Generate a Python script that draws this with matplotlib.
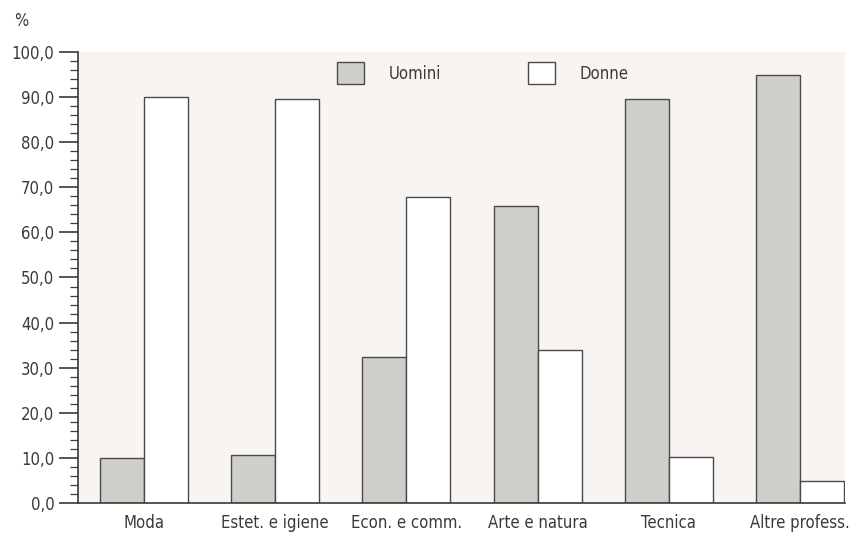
import matplotlib.pyplot as plt
import numpy as np
from matplotlib.patches import Patch
from matplotlib.ticker import MultipleLocator, FuncFormatter

categories = ['Moda', 'Estet. e igiene', 'Econ. e comm.', 'Arte e natura', 'Tecnica', 'Altre profess.']
uomini = [10.0, 10.6, 32.4, 65.9, 89.6, 94.9]
donne = [90.1, 89.5, 67.8, 33.9, 10.3, 4.9]

plt.rcParams['font.family'] = ['DejaVu Sans']
plt.rcParams['font.stretch'] = 'condensed'
txt = '#3a3a3a'
grey = '#cfcfc9'
edge = '#4a4a4a'

fig = plt.figure(figsize=(8.54, 5.45), dpi=100)
ax = fig.add_axes([0.0913, 0.0771, 0.898, 0.8275])
ax.set_facecolor('#f7f4f2')

x = np.arange(len(categories))
w = 0.335
ax.bar(x - w / 2, uomini, w, color=grey, edgecolor=edge, lw=1.0, label='Uomini')
ax.bar(x + w / 2, donne, w, color='white', edgecolor=edge, lw=1.0, label='Donne')

ax.set_xlim(-0.5, 5 + w + 0.005)
ax.set_ylim(0, 100)
ax.yaxis.set_major_locator(MultipleLocator(10))
ax.yaxis.set_minor_locator(MultipleLocator(2))
ax.yaxis.set_major_formatter(FuncFormatter(lambda v, p: f'{v:.1f}'.replace('.', ',')))
ax.set_xticks(x)
ax.set_xticklabels(categories)
ax.tick_params(axis='x', length=0, pad=8, labelsize=12, colors=txt)
ax.tick_params(axis='y', which='major', length=14, width=1.2, labelsize=12, colors=txt, pad=3)
ax.tick_params(axis='y', which='minor', length=6, width=0.9, colors=txt)
for s in ['top', 'right']:
    ax.spines[s].set_visible(False)
for s in ['left', 'bottom']:
    ax.spines[s].set_color(txt)
    ax.spines[s].set_linewidth(1.2)

handles = [Patch(facecolor=grey, edgecolor=edge, lw=1.0), Patch(facecolor='white', edgecolor=edge, lw=1.0)]
ax.legend(handles, ['Uomini', 'Donne'], loc='center', bbox_to_anchor=(0.528, 0.953), ncol=2,
          frameon=False, handlelength=1.6, handleheight=1.6, handletextpad=1.5, columnspacing=5.2,
          fontsize=12, labelcolor=txt)

fig.text(0.016, 0.952, '%', fontsize=12, color=txt)

fig.savefig('out.png', dpi=100)
